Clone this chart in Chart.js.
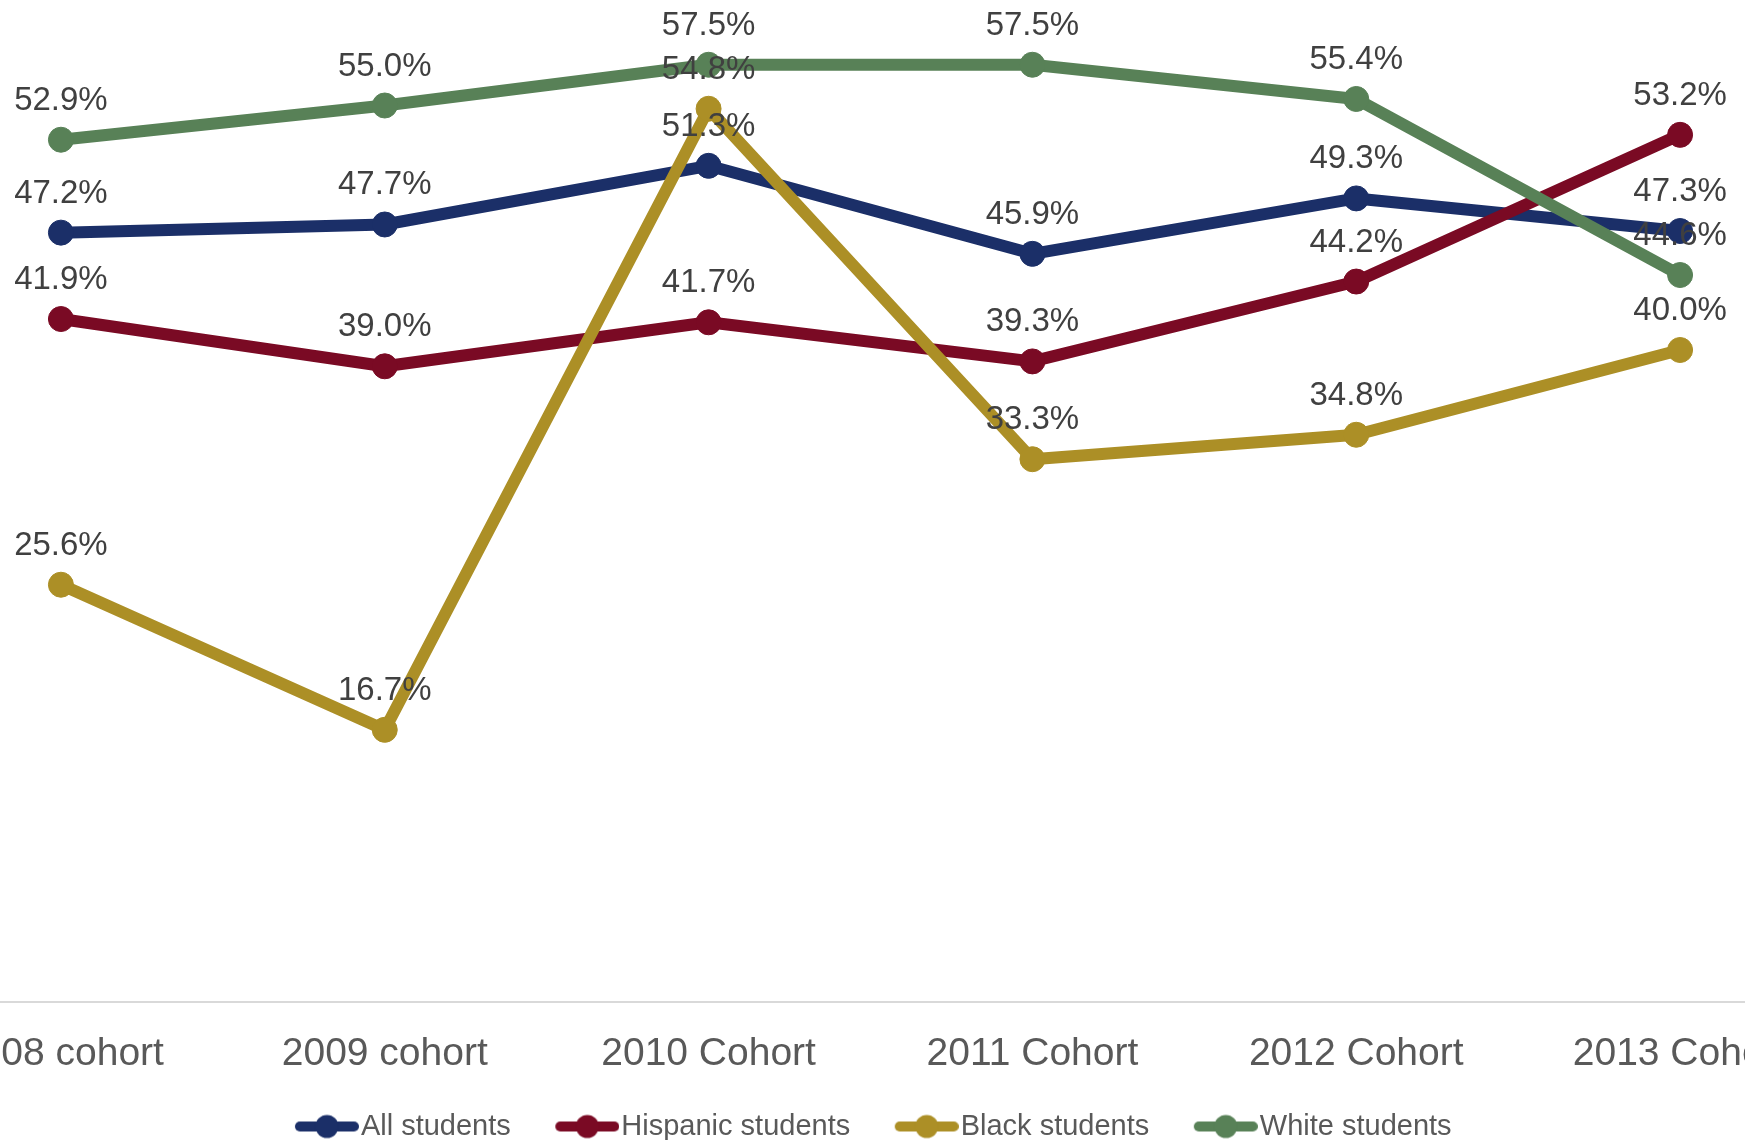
<!DOCTYPE html>
<html>
<head>
<meta charset="utf-8">
<script src="https://cdn.jsdelivr.net/npm/chart.js@4.4.1/dist/chart.umd.min.js"></script>
<style>
    html, body { margin: 0; padding: 0; background: #fff; overflow: hidden; width: 1745px; height: 1140px; }
    #wrap { position: absolute; left: -130px; top: 0; }
</style>
</head>
<body>
<div id="wrap"><canvas id="cohortChart" width="1972" height="1151"></canvas></div>
<script>
// cohorts along the x axis
const cohorts = ['2008 cohort', '2009 cohort', '2010 Cohort', '2011 Cohort', '2012 Cohort', '2013 Cohort'];

// percentages per student group
const allStudents = [47.2, 47.7, 51.3, 45.9, 49.3, 47.3];
const hispanicStudents = [41.9, 39.0, 41.7, 39.3, 44.2, 53.2];
const blackStudents = [25.6, 16.7, 54.8, 33.3, 34.8, 40.0];
const whiteStudents = [52.9, 55.0, 57.5, 57.5, 55.4, 44.6];

const seriesNames = ['All students', 'Hispanic students', 'Black students', 'White students'];
const seriesColors = ['#1b2f68', '#7a0a24', '#ac8f26', '#588157'];

Chart.defaults.font.family = '"Liberation Sans", Arial, Helvetica, sans-serif';

// legend marker: short line with a dot, sitting at the right end of a wider box
function makeLegendMarker(color) {
    const c = document.createElement('canvas');
    c.width = 111;
    c.height = 28;
    const g = c.getContext('2d');
    g.strokeStyle = color;
    g.lineWidth = 10;
    g.lineCap = 'round';
    g.beginPath();
    g.moveTo(c.width - 59, 14);
    g.lineTo(c.width - 5, 14);
    g.stroke();
    g.fillStyle = color;
    g.beginPath();
    g.arc(c.width - 32, 14, 11.5, 0, Math.PI * 2);
    g.fill();
    return c;
}

// value labels above every point, drawn after all the lines
const valueLabels = {
    id: 'valueLabels',
    afterDatasetsDraw(chart) {
        const ctx = chart.ctx;
        ctx.save();
        ctx.font = '33px "Liberation Sans", Arial, sans-serif';
        ctx.fillStyle = '#404040';
        ctx.textAlign = 'center';
        ctx.textBaseline = 'alphabetic';
        chart.data.datasets.forEach((ds, i) => {
            const meta = chart.getDatasetMeta(i);
            meta.data.forEach((pt, j) => {
                ctx.fillText(ds.data[j].toFixed(1) + '%', pt.x, pt.y - 30);
            });
        });
        ctx.restore();
    }
};

const seriesData = [allStudents, hispanicStudents, blackStudents, whiteStudents];
const datasets = seriesData.map((values, i) => ({
    label: seriesNames[i],
    data: values,
    borderColor: seriesColors[i],
    backgroundColor: seriesColors[i],
    pointBackgroundColor: seriesColors[i],
    pointBorderColor: seriesColors[i],
    borderWidth: 12,
    borderCapStyle: 'round',
    borderJoinStyle: 'round',
    pointRadius: 12.5,
    pointBorderWidth: 1,
    tension: 0,
    fill: false,
    order: seriesData.length - i // later groups on top
}));

const ctx = document.getElementById('cohortChart').getContext('2d');
new Chart(ctx, {
    type: 'line',
    data: { labels: cohorts, datasets: datasets },
    options: {
        responsive: false,
        animation: false,
        events: [],
        layout: { autoPadding: false, padding: { top: 24, left: 0, right: 0, bottom: 0 } },
        scales: {
            x: {
                offset: true,
                grid: { display: false, drawTicks: false },
                border: { display: true, color: '#d9d9d9', width: 2 },
                ticks: {
                    color: '#595959',
                    font: { size: 39 },
                    padding: 29,
                    maxRotation: 0,
                    autoSkip: false
                },
                afterFit: (scale) => {
                    scale.height = 100;
                    scale.paddingLeft = 0;
                    scale.paddingRight = 0;
                }
            },
            y: {
                display: true,
                min: 0,
                max: 60,
                grid: { display: false, drawTicks: false },
                border: { display: false },
                ticks: { display: false },
                afterFit: (scale) => {
                    scale.width = 29;
                }
            }
        },
        plugins: {
            tooltip: { enabled: false },
            legend: {
                display: true,
                position: 'bottom',
                labels: {
                    usePointStyle: true,
                    pointStyleWidth: 86,
                    padding: 10,
                    color: '#595959',
                    font: { size: 29 },
                    generateLabels: (chart) => chart.data.datasets.map((ds, i) => ({
                        text: ds.label,
                        datasetIndex: i,
                        hidden: false,
                        fontColor: '#595959',
                        fillStyle: ds.borderColor,
                        strokeStyle: ds.borderColor,
                        lineWidth: 0,
                        pointStyle: makeLegendMarker(ds.borderColor)
                    }))
                }
            }
        }
    },
    plugins: [valueLabels]
});
</script>
</body>
</html>
